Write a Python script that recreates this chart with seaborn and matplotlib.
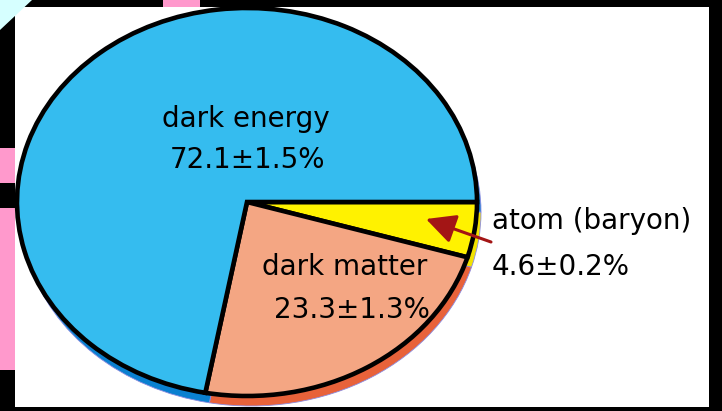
import matplotlib
matplotlib.use("Agg")
import matplotlib.pyplot as plt
import matplotlib.patches as mpatches
import seaborn as sns

# ---- data ----
categories = ["atom (baryon)", "dark matter", "dark energy"]
shares = [4.6, 23.3, 72.1]
errors = [0.2, 1.3, 1.5]
face_colors = ["#FFF200", "#F4A683", "#35BCEF"]
rim_colors = ["#F2E200", "#E8623A", "#0A80D0"]

sns.set_theme(style="white")
plt.rcParams["font.family"] = ["DejaVu Sans", "Noto Sans CJK JP"]

W, H = 722, 411
CX, CY, RX, RY = 247, 202, 230, 194  # ellipse geometry in pixels

fig = plt.figure(figsize=(W / 100, H / 100), dpi=100, facecolor="black")
ax = fig.add_axes([0, 0, 1, 1])
ax.set_facecolor("none")


def P(x, y):
    return (x / W, 1 - y / H)


ft = fig.transFigure
# white panel and decorations
ax.add_patch(mpatches.Rectangle(P(15, 407), 694 / W, 400 / H, transform=ft,
                                facecolor="white", edgecolor="none", zorder=0))
for (x0, y0, x1, y1) in [(163, 0, 200, 7), (0, 148, 15, 183), (0, 208, 15, 370)]:
    ax.add_patch(mpatches.Rectangle(P(x0, y1), (x1 - x0) / W, (y1 - y0) / H,
                                    transform=ft, facecolor="#FF99CC",
                                    edgecolor="none", zorder=0))
ax.add_patch(mpatches.Polygon([P(0, 0), P(32, 0), P(0, 30)], closed=True,
                              transform=ft, facecolor="#D6FFFF",
                              edgecolor="none", zorder=0))

# rim (3D edge) pie underneath
rim_w, _ = ax.pie(shares, colors=rim_colors, startangle=0, counterclock=False,
                  center=(4 / RX, -10 / RY), radius=1,
                  wedgeprops=dict(edgecolor="#8C8CE0", linewidth=0.6))
for w in rim_w:
    w.set_zorder(1)

# main pie
main_w, _ = ax.pie(shares, colors=face_colors, startangle=0, counterclock=False,
                   center=(0, 0), radius=1,
                   wedgeprops=dict(edgecolor="black", linewidth=3.3,
                                   joinstyle="miter"))
for w in main_w:
    w.set_zorder(2)

ax.set_aspect("auto")
ax.set_xlim((0 - CX) / RX, (W - CX) / RX)
ax.set_ylim((CY - H) / RY, CY / RY)
ax.axis("off")

fs = 20
ax.text(*P(246, 127), "dark energy", transform=ft, ha="center", va="baseline",
        fontsize=fs, color="black", zorder=5)
ax.text(*P(248, 168), f"{shares[2]}±{errors[2]}%", transform=ft, ha="center",
        va="baseline", fontsize=fs, color="black", zorder=5)
ax.text(*P(345, 275), "dark matter", transform=ft, ha="center", va="baseline",
        fontsize=fs, color="black", zorder=5)
ax.text(*P(352, 318), f"{shares[1]}±{errors[1]}%", transform=ft, ha="center",
        va="baseline", fontsize=fs, color="black", zorder=5)
ax.text(*P(492, 229), categories[0], transform=ft, ha="left", va="baseline",
        fontsize=fs, color="black", zorder=5)
ax.text(*P(492, 275), f"{shares[0]}±{errors[0]}%", transform=ft, ha="left",
        va="baseline", fontsize=fs, color="black", zorder=5)

arrow = mpatches.FancyArrowPatch(P(491, 242), P(426, 219), transform=ft,
                                 arrowstyle="-|>,head_length=0.9,head_width=0.45",
                                 mutation_scale=20, color="#A31515", lw=2.2,
                                 zorder=6, shrinkA=0, shrinkB=0)
ax.add_patch(arrow)

fig.savefig("out.png", dpi=100, facecolor="black")
